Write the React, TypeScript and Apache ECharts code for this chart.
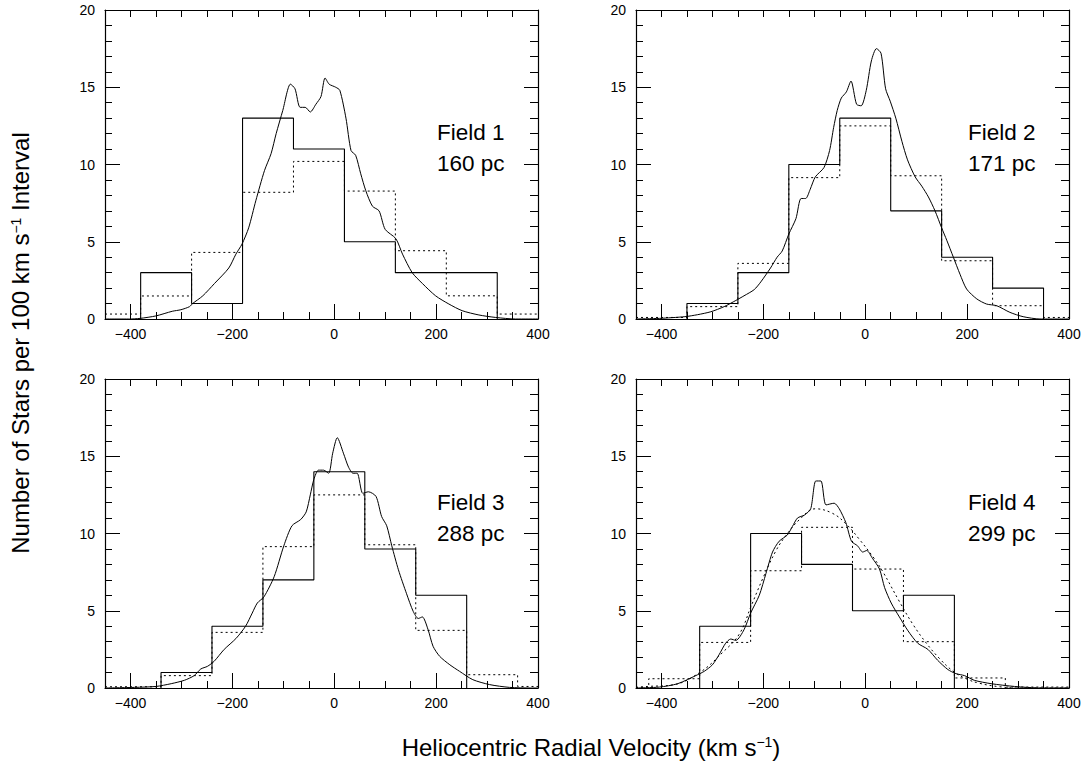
import React, { useEffect, useRef } from 'react';
import * as echarts from 'echarts';

const FONT = "'Liberation Sans', Arial, Helvetica, sans-serif";

const X_MIN = -450;
const X_MAX = 400;
const Y_MIN = 0;
const Y_MAX = 20;
const xMajorTicks = [-400, -200, 0, 200, 400];

const fieldNames = ['Field 1', 'Field 2', 'Field 3', 'Field 4'];
const fieldDistances = ['160 pc', '171 pc', '288 pc', '299 pc'];

// ---------- Field 1 ----------
const f1HistEdges = [-380, -280, -180, -80, 20, 120, 220, 320];
const f1HistCounts = [3, 1, 13, 11, 5, 3, 3];
const f1ModelEdges = [-450, -380, -280, -180, -80, 20, 120, 220, 320, 400];
const f1ModelCounts = [0.32, 1.49, 4.31, 8.2, 10.2, 8.28, 4.42, 1.5, 0.32];
const f1KdeV = [-450, -402, -381, -350, -318, -301, -284, -278, -258, -235, -207, -193, -181, -168, -154, -137, -124, -114, -101, -86, -77, -67, -57, -47, -36, -26, -18, -10, 3, 11, 23, 33, 42, 52, 62, 75, 88, 100, 121, 134, 153, 173, 199, 225, 251, 284, 317, 356, 400];
const f1KdeN = [0, 0, 0.04, 0.2, 0.5, 0.6, 0.8, 1.0, 1.5, 2.3, 3.3, 4.2, 4.85, 5.9, 7.65, 9.6, 10.7, 12.0, 13.5, 15.2, 14.9, 13.7, 13.7, 13.4, 13.9, 14.4, 15.6, 15.2, 15.0, 14.8, 13.0, 10.9, 10.6, 9.4, 8.3, 7.3, 7.0, 5.8, 5.2, 4.2, 3.0, 2.3, 1.5, 0.97, 0.54, 0.26, 0.1, 0, 0];

// ---------- Field 2 ----------
const f2HistEdges = [-350, -250, -150, -50, 50, 150, 250, 350];
const f2HistCounts = [1, 3, 10, 13, 7, 4, 2];
const f2ModelEdges = [-450, -350, -250, -150, -50, 50, 150, 250, 350, 400];
const f2ModelCounts = [0.1, 0.8, 3.6, 9.15, 12.5, 9.27, 3.77, 0.86, 0.1];
const f2KdeV = [-450, -404, -354, -329, -303, -277, -254, -238, -218, -205, -186, -173, -163, -150, -136, -126, -117, -108, -98, -81, -70, -62, -55, -47, -37, -28, -17, -8, 2, 12, 22, 31, 40, 49, 60, 72, 83, 98, 111, 124, 137, 150, 160, 173, 186, 199, 219, 238, 258, 284, 310, 343, 400];
const f2KdeN = [0, 0.04, 0.15, 0.28, 0.47, 0.8, 1.2, 1.5, 1.9, 2.4, 3.3, 4.0, 4.4, 5.5, 6.5, 7.8, 7.8, 8.4, 9.2, 9.8, 10.9, 12.4, 13.5, 14.3, 14.7, 15.4, 13.9, 13.8, 14.8, 16.7, 17.5, 17.2, 14.9, 14.1, 13.0, 11.5, 10.3, 9.2, 8.6, 7.9, 7.0, 5.9, 5.1, 4.0, 2.9, 1.94, 1.3, 0.97, 0.86, 0.43, 0.15, 0, 0];

// ---------- Field 3 ----------
const f3HistEdges = [-340, -240, -140, -40, 60, 160, 260];
const f3HistCounts = [1, 4, 7, 14, 9, 6];
const f3ModelEdges = [-450, -340, -240, -140, -40, 60, 160, 260, 360, 400];
const f3ModelCounts = [0.08, 0.8, 3.6, 9.15, 12.5, 9.27, 3.73, 0.86, 0.1];
const f3KdeV = [-450, -392, -350, -320, -294, -275, -262, -249, -236, -216, -193, -174, -161, -151, -138, -118, -99, -83, -66, -55, -47, -40, -31, -21, -11, -3, 6, 18, 28, 37, 45, 56, 67, 82, 93, 103, 113, 126, 142, 155, 165, 173, 184, 194, 207, 227, 246, 272, 305, 344, 386, 400];
const f3KdeN = [0, 0.04, 0.1, 0.28, 0.5, 0.8, 1.23, 1.4, 1.72, 2.5, 3.2, 4.0, 4.85, 5.5, 5.9, 7.2, 9.2, 10.5, 10.9, 11.4, 12.5, 13.5, 14.1, 14.1, 13.9, 15.2, 16.2, 15.2, 14.3, 13.9, 13.9, 12.6, 12.7, 12.4, 11.1, 10.5, 9.2, 7.65, 6.1, 4.96, 4.5, 4.6, 3.8, 2.7, 2.05, 1.5, 1.08, 0.54, 0.22, 0.04, 0, 0];

// ---------- Field 4 ----------
const f4HistEdges = [-325, -225, -125, -25, 75, 175];
const f4HistCounts = [4, 10, 8, 5, 6];
const f4ModelEdges = [-450, -425, -325, -225, -125, -25, 75, 175, 275, 400];
const f4ModelCounts = [0.05, 0.6, 2.95, 7.59, 10.4, 7.7, 3.0, 0.65, 0.06];
const f4KdeV = [-450, -404, -368, -329, -316, -300, -287, -274, -264, -254, -238, -225, -208, -195, -182, -169, -153, -143, -133, -119, -107, -97, -87, -77, -61, -51, -38, -27, -15, -5, 3, 14, 28, 38, 51, 67, 84, 103, 123, 142, 162, 178, 195, 214, 247, 293, 345, 400];
const f4KdeN = [0, 0.06, 0.28, 0.86, 1.08, 1.5, 2.15, 2.9, 3.17, 3.08, 3.77, 4.85, 6.0, 7.4, 8.8, 9.5, 9.9, 10.45, 11.0, 11.2, 11.6, 13.4, 13.4, 11.85, 11.96, 11.6, 10.7, 9.5, 9.2, 8.8, 8.9, 8.4, 7.7, 6.5, 5.5, 4.6, 3.7, 2.9, 2.5, 1.8, 1.2, 0.93, 0.8, 0.5, 0.28, 0.1, 0, 0];
const f4FitV = [-450, -427, -378, -325, -280, -247, -224, -201, -175, -155, -129, -98, -64, -37, -11, 15, 35, 67, 94, 120, 146, 172, 198, 225, 264, 303, 400];
const f4FitN = [0.03, 0.1, 0.2, 1.0, 2.3, 3.5, 5.3, 7.1, 8.9, 9.9, 10.9, 11.6, 11.3, 10.6, 9.6, 8.5, 7.5, 5.6, 4.1, 2.9, 1.9, 1.1, 0.6, 0.3, 0.08, 0, 0];

const panels = [
  { histEdges: f1HistEdges, histCounts: f1HistCounts, modelEdges: f1ModelEdges, modelCounts: f1ModelCounts, kdeV: f1KdeV, kdeN: f1KdeN, fitV: null as number[] | null, fitN: null as number[] | null },
  { histEdges: f2HistEdges, histCounts: f2HistCounts, modelEdges: f2ModelEdges, modelCounts: f2ModelCounts, kdeV: f2KdeV, kdeN: f2KdeN, fitV: null, fitN: null },
  { histEdges: f3HistEdges, histCounts: f3HistCounts, modelEdges: f3ModelEdges, modelCounts: f3ModelCounts, kdeV: f3KdeV, kdeN: f3KdeN, fitV: null, fitN: null },
  { histEdges: f4HistEdges, histCounts: f4HistCounts, modelEdges: f4ModelEdges, modelCounts: f4ModelCounts, kdeV: f4KdeV, kdeN: f4KdeN, fitV: f4FitV, fitN: f4FitN },
];

// layout (pixels)
const GRID_POS = [
  { left: 105, top: 10 },
  { left: 636, top: 10 },
  { left: 105, top: 379 },
  { left: 636, top: 379 },
];
const GRID_W = 433;
const GRID_H = 309;

function stepPoints(edges: number[], values: number[], closed: boolean): number[][] {
  const pts: number[][] = [];
  if (closed) pts.push([edges[0], 0]);
  for (let i = 0; i < values.length; i++) {
    pts.push([edges[i], values[i]]);
    pts.push([edges[i + 1], values[i]]);
  }
  if (closed) pts.push([edges[edges.length - 1], 0]);
  return pts;
}

function zipPts(xs: number[], ys: number[]): number[][] {
  return xs.map((x, i) => [x, ys[i]]);
}

function fmtX(v: number): string {
  if (v % 200 !== 0) return '';
  return v < 0 ? '\u2212' + Math.abs(v) : String(v);
}

function buildOption() {
  const black = '#000';
  const grids: any[] = [];
  const xAxes: any[] = [];
  const yAxes: any[] = [];
  const series: any[] = [];
  const graphic: any[] = [];

  GRID_POS.forEach((p) => {
    grids.push({ left: p.left, top: p.top, width: GRID_W, height: GRID_H, containLabel: false, outerBoundsMode: 'none' });
  });
  GRID_POS.forEach((p) => {
    grids.push({ left: p.left, top: p.top, width: GRID_W, height: GRID_H, containLabel: false, outerBoundsMode: 'none' });
  });

  for (let i = 0; i < 4; i++) {
    xAxes.push({
      type: 'value', gridIndex: i, position: 'bottom', min: X_MIN, max: X_MAX, interval: 50,
      axisLine: { show: true, onZero: false, lineStyle: { color: black, width: 1.2 } },
      axisTick: { show: true, inside: true, length: 7, lineStyle: { color: black, width: 1 } },
      axisLabel: { show: true, formatter: fmtX, color: black, fontSize: 14, fontFamily: FONT, margin: 8 },
      splitLine: { show: false },
    });
    xAxes.push({
      type: 'value', gridIndex: i, position: 'top', min: X_MIN, max: X_MAX, interval: 50,
      axisLine: { show: true, onZero: false, lineStyle: { color: black, width: 1.2 } },
      axisTick: { show: true, inside: true, length: 7, lineStyle: { color: black, width: 1 } },
      axisLabel: { show: false },
      splitLine: { show: false },
    });
    yAxes.push({
      type: 'value', gridIndex: i, position: 'left', min: Y_MIN, max: Y_MAX, interval: 5,
      axisLine: { show: true, onZero: false, lineStyle: { color: black, width: 1.2 } },
      axisTick: { show: true, inside: true, length: 15, lineStyle: { color: black, width: 1 } },
      minorTick: { show: true, splitNumber: 5, length: 7, lineStyle: { color: black, width: 1 } },
      axisLabel: { show: true, color: black, fontSize: 14, fontFamily: FONT, margin: 10 },
      splitLine: { show: false },
      minorSplitLine: { show: false },
    });
    yAxes.push({
      type: 'value', gridIndex: i, position: 'right', min: Y_MIN, max: Y_MAX, interval: 5,
      axisLine: { show: true, onZero: false, lineStyle: { color: black, width: 1.2 } },
      axisTick: { show: true, inside: true, length: 14, lineStyle: { color: black, width: 1 } },
      minorTick: { show: true, splitNumber: 5, length: 8, lineStyle: { color: black, width: 1 } },
      axisLabel: { show: false },
      splitLine: { show: false },
      minorSplitLine: { show: false },
    });
  }
  for (let i = 0; i < 4; i++) {
    xAxes.push({
      type: 'value', gridIndex: 4 + i, position: 'bottom', min: X_MIN, max: X_MAX,
      axisLine: { show: false },
      axisTick: { show: true, inside: true, length: 15, customValues: xMajorTicks, lineStyle: { color: black, width: 1 } },
      axisLabel: { show: false },
      splitLine: { show: false },
    });
    yAxes.push({
      type: 'value', gridIndex: 4 + i, min: Y_MIN, max: Y_MAX, show: false,
      splitLine: { show: false },
    });
  }

  panels.forEach((pn, i) => {
    const xi = 2 * i;
    const yi = 2 * i;
    series.push({
      type: 'line', xAxisIndex: xi, yAxisIndex: yi, symbol: 'none', silent: true,
      data: stepPoints(pn.modelEdges, pn.modelCounts, false),
      lineStyle: { color: black, width: 1, type: [2, 3] },
    });
    series.push({
      type: 'line', xAxisIndex: xi, yAxisIndex: yi, symbol: 'none', silent: true,
      data: stepPoints(pn.histEdges, pn.histCounts, true),
      lineStyle: { color: black, width: 1.1 },
    });
    series.push({
      type: 'line', xAxisIndex: xi, yAxisIndex: yi, symbol: 'none', silent: true, smooth: 0.25,
      data: zipPts(pn.kdeV, pn.kdeN),
      lineStyle: { color: black, width: 1 },
    });
    if (pn.fitV && pn.fitN) {
      series.push({
        type: 'line', xAxisIndex: xi, yAxisIndex: yi, symbol: 'none', silent: true, smooth: 0.4,
        data: zipPts(pn.fitV, pn.fitN),
        lineStyle: { color: black, width: 1, type: [2, 3] },
      });
    }
  });

  const labelX = [437, 968, 437, 968];
  const labelBase = [140.7, 140.7, 510.7, 510.7];
  for (let i = 0; i < 4; i++) {
    graphic.push({
      type: 'text', x: labelX[i], y: labelBase[i] - 7.8, silent: true,
      style: { text: fieldNames[i], fill: '#000', fontSize: 22.5, fontFamily: FONT, align: 'left', verticalAlign: 'middle' },
    });
    graphic.push({
      type: 'text', x: labelX[i], y: labelBase[i] + 31 - 7.8, silent: true,
      style: { text: fieldDistances[i], fill: '#000', fontSize: 22.5, fontFamily: FONT, align: 'left', verticalAlign: 'middle' },
    });
  }

  const rich = {
    t: { fontSize: 24, fontFamily: FONT, fill: '#000', color: '#000' },
    s: { fontSize: 14, fontFamily: FONT, fill: '#000', color: '#000', verticalAlign: 'top' },
  };
  graphic.push({
    type: 'text', x: 591, y: 747, silent: true,
    style: {
      text: '{t|Heliocentric Radial Velocity (km s}{s|\u22121}{t|)}',
      rich, fill: '#000', fontSize: 24, fontFamily: FONT, align: 'center', verticalAlign: 'middle',
    },
  });
  graphic.push({
    type: 'text', x: 20.5, y: 343, rotation: Math.PI / 2, silent: true,
    style: {
      text: '{t|Number of Stars per 100 km s}{s|\u22121}{t| Interval}',
      rich, fill: '#000', fontSize: 24, fontFamily: FONT, align: 'center', verticalAlign: 'middle',
    },
  });

  return {
    animation: false,
    backgroundColor: '#ffffff',
    textStyle: { fontFamily: FONT },
    grid: grids,
    xAxis: xAxes,
    yAxis: yAxes,
    series,
    graphic,
  };
}

export default function App() {
  const ref = useRef<HTMLDivElement>(null);
  useEffect(() => {
    if (!ref.current) return;
    const chart = echarts.init(ref.current, undefined, { renderer: 'svg' });
    chart.setOption(buildOption() as any);
    return () => {
      chart.dispose();
    };
  }, []);
  return (
    <div
      ref={ref}
      style={{ position: 'fixed', left: 0, top: 0, width: 1086, height: 764, background: '#fff' }}
    />
  );
}
